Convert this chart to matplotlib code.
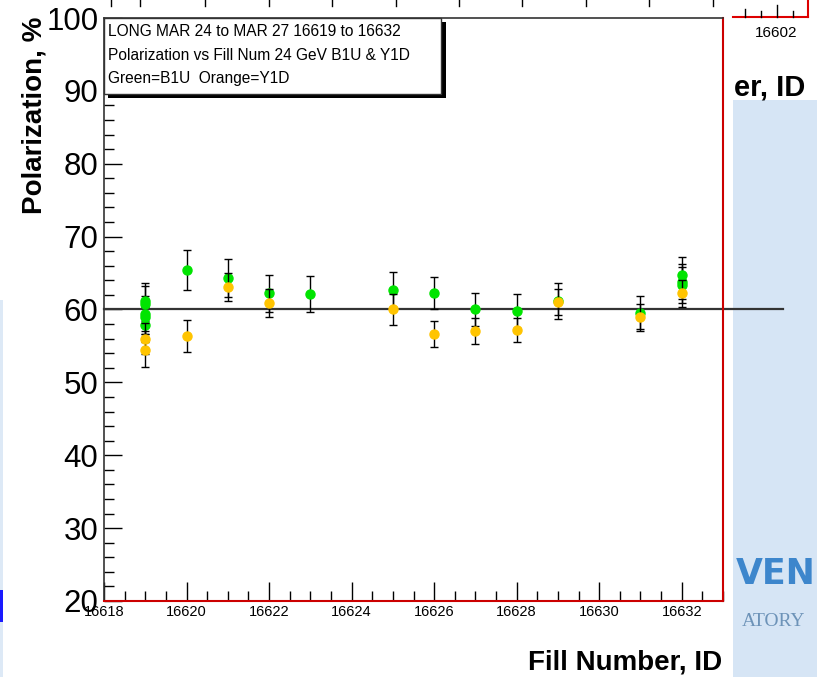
import matplotlib
matplotlib.use("Agg")
import matplotlib.pyplot as plt
from matplotlib.patches import Rectangle
from matplotlib.lines import Line2D
import numpy as np

# ---- data ----
b1u_fill = [16619, 16619, 16619, 16619, 16619, 16620, 16621, 16622, 16623, 16625,
            16626, 16627, 16628, 16629, 16631, 16632, 16632, 16632]
b1u_pol = [61.2, 60.8, 59.4, 59.0, 57.9, 65.4, 64.3, 62.2, 62.1, 62.7,
           62.2, 60.0, 59.8, 61.2, 59.5, 64.8, 63.8, 63.4]
b1u_err = [2.4, 2.4, 2.4, 2.4, 2.4, 2.7, 2.6, 2.5, 2.5, 2.4,
           2.2, 2.2, 2.3, 2.5, 2.4, 2.4, 2.4, 2.5]

y1d_fill = [16619, 16619, 16620, 16621, 16622, 16625, 16626, 16627, 16628, 16629,
            16631, 16632]
y1d_pol = [56.0, 54.4, 56.3, 63.1, 60.9, 60.0, 56.6, 57.1, 57.2, 61.0, 59.0, 62.2]
y1d_err = [2.1, 2.3, 2.2, 1.9, 1.9, 2.1, 1.8, 1.8, 1.7, 1.8, 1.7, 1.8]

ref_level = 60
x_ticks = [16618, 16620, 16622, 16624, 16626, 16628, 16630, 16632]
y_ticks = [20, 30, 40, 50, 60, 70, 80, 90, 100]
info_lines = ["LONG MAR 24 to MAR 27 16619 to 16632",
              "Polarization vs Fill Num 24 GeV B1U & Y1D",
              "Green=B1U  Orange=Y1D"]

W, H = 817, 677
fig = plt.figure(figsize=(W / 100, H / 100), dpi=100)
fig.patch.set_facecolor("white")

def fx(x):
    return x / W

def fy(y):
    return 1 - y / H

# background decorations (underlying window)
fig.add_artist(Rectangle((fx(733), 0), fx(W - 733), fy(100), transform=fig.transFigure,
                         facecolor="#d6e5f5", edgecolor="none", zorder=0))
fig.add_artist(Rectangle((0, 0), fx(3), fy(300), transform=fig.transFigure,
                         facecolor="#dde9f6", edgecolor="none", zorder=0))
fig.add_artist(Rectangle((0, fy(622)), fx(3), fy(590) - fy(622), transform=fig.transFigure,
                         facecolor="#1a1aff", edgecolor="none", zorder=0))
fig.text(fx(736), fy(574), "VEN", color="#3d86cc", fontsize=25, fontweight="bold",
         family="DejaVu Sans", va="center", ha="left", zorder=1)
fig.text(fx(742), fy(622), "ATORY", color="#6d93b8", fontsize=14, family="Liberation Serif",
         va="center", ha="left", zorder=1)
fig.text(fx(734), fy(88), "er, ID", color="black", fontsize=21, fontweight="bold",
         family="Liberation Sans", va="center", ha="left", zorder=1)
fig.text(fx(776), fy(33), "16602", color="black", fontsize=11,
         family="Liberation Sans", va="center", ha="center", zorder=1)
fig.add_artist(Line2D([fx(733), fx(808)], [fy(17), fy(17)], transform=fig.transFigure,
                      color="#dd0000", lw=1.5))
fig.add_artist(Line2D([fx(808), fx(808)], [fy(17), 1], transform=fig.transFigure,
                      color="#dd0000", lw=1.5))
for tx, tl in [(745, 8), (761, 6), (777, 12), (793, 6)]:
    fig.add_artist(Line2D([fx(tx), fx(tx)], [fy(17), fy(17 - tl)], transform=fig.transFigure,
                          color="black", lw=1))
for tx in [111, 140, 205, 269, 332, 396, 459, 522, 586, 649, 713]:
    fig.add_artist(Line2D([fx(tx), fx(tx)], [1, fy(6)], transform=fig.transFigure,
                          color="black", lw=1))

# ---- main axes ----
ax = fig.add_axes([fx(104), fy(601), fx(723 - 104), fy(18) - fy(601)])
ax.set_xlim(16618, 16633)
ax.set_ylim(20, 100)
ax.patch.set_facecolor("white")

ax.axhline(ref_level, xmin=0, xmax=(16634.45 - 16618) / 15, color="#333333", lw=1.6,
           clip_on=False, zorder=2)

ax.errorbar(b1u_fill, b1u_pol, yerr=b1u_err, fmt="o", color="#00e400", ms=6.5,
            ecolor="black", elinewidth=1, capsize=3, capthick=1, zorder=3)
ax.errorbar(y1d_fill, y1d_pol, yerr=y1d_err, fmt="o", color="#ffc400", ms=6.5,
            ecolor="black", elinewidth=1, capsize=3, capthick=1, zorder=4)

for s in ["bottom", "right"]:
    ax.spines[s].set_color("#cc0000")
    ax.spines[s].set_linewidth(1.5)
for s in ["top", "left"]:
    ax.spines[s].set_color("#333333")
    ax.spines[s].set_linewidth(1.2)

ax.set_xticks(x_ticks)
ax.set_xticklabels([str(t) for t in x_ticks], family=["Liberation Sans Narrow", "Liberation Sans"],
                   fontsize=10.5)
ax.set_xticks(np.arange(16618, 16633.01, 0.5), minor=True)
ax.set_yticks(y_ticks)
ax.set_yticklabels([str(t) for t in y_ticks], family="Liberation Sans", fontsize=22.5)
ax.set_yticks(np.arange(20, 100.01, 2), minor=True)
ax.tick_params(axis="x", which="major", direction="in", length=14, width=1, pad=3,
               top=False, colors="black")
ax.tick_params(axis="x", which="minor", direction="in", length=7, width=1, top=False)
ax.tick_params(axis="y", which="major", direction="in", length=13, width=1, pad=4, right=False)
ax.tick_params(axis="y", which="minor", direction="in", length=7, width=1, right=False)

fig.text(fx(35), fy(115), "Polarization, %", rotation=90, fontsize=20, fontweight="bold",
         family="Liberation Sans", va="center", ha="center")
fig.text(fx(722), fy(663), "Fill Number, ID", fontsize=20, fontweight="bold",
         family="Liberation Sans", va="center", ha="right")

# info box with shadow
fig.add_artist(Rectangle((fx(108), fy(98)), fx(446 - 108), fy(22) - fy(98),
                         transform=fig.transFigure, facecolor="black", edgecolor="none", zorder=5))
fig.add_artist(Rectangle((fx(104), fy(94)), fx(441 - 104), fy(18) - fy(94),
                         transform=fig.transFigure, facecolor="white", edgecolor="#333333",
                         lw=1, zorder=6))
for i, line in enumerate(info_lines):
    fig.text(fx(108), fy(32 + 23.5 * i), line, fontsize=11.2, family="Liberation Sans",
             va="center", ha="left", zorder=7)

fig.savefig("out.png", dpi=100)
